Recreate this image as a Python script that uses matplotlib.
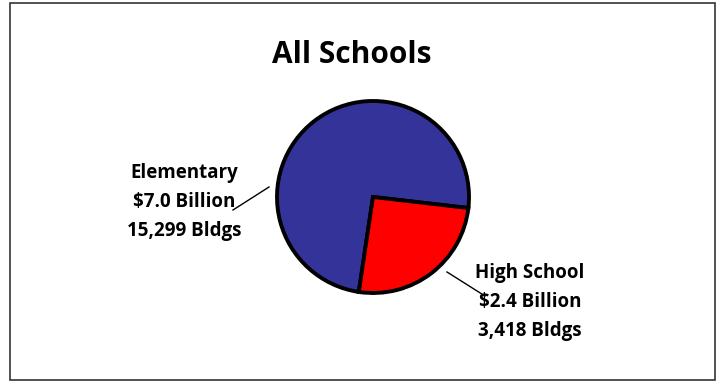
import matplotlib
matplotlib.use("Agg")
import matplotlib.pyplot as plt
from matplotlib.patches import Rectangle

# Cost and building counts by school type
categories = ["Elementary", "High School"]
cost_billions = [7.0, 2.4]
buildings = [15299, 3418]
colors = ["#333399", "#FF0000"]

plt.rcParams["font.family"] = ["Open Sans", "DejaVu Sans"]

W, H = 716, 381
fig = plt.figure(figsize=(W / 100, H / 100), dpi=100)
ax = fig.add_axes([0, 0, 1, 1])

ax.pie(cost_billions, colors=colors, startangle=-98.5, counterclock=False,
       center=(373, H - 197), radius=96, frame=True,
       wedgeprops=dict(edgecolor="black", linewidth=2.8))
ax.set_xlim(0, W)
ax.set_ylim(0, H)
ax.set_aspect("equal")
ax.axis("off")

# outer chart border
ax.add_patch(Rectangle((10, 1), 705, 377, fill=False, edgecolor="#333333", linewidth=1.2))

ax.text(352, H - 55, "All Schools", ha="center", va="center",
        fontsize=21.5, fontweight="bold")


def label_text(name, cost, count):
    return f"{name}\n${cost:.1f} Billion\n{count:,} Bldgs"


# label positions and leader line endpoints (pixels from top-left)
label_pos = [(184, 202), (530, 302)]
leader_from = [(269, 187), (447, 272)]
leader_to = [(233, 210), (485, 296)]

for name, cost, count, (lx, ly), (fx, fy), (tx, ty) in zip(
        categories, cost_billions, buildings, label_pos, leader_from, leader_to):
    ax.text(lx, H - ly, label_text(name, cost, count), ha="center", va="center",
            fontsize=13.5, fontweight="bold", linespacing=1.6)
    ax.plot([fx, tx], [H - fy, H - ty], color="black", linewidth=1.0)

fig.savefig("out.png", dpi=100)
